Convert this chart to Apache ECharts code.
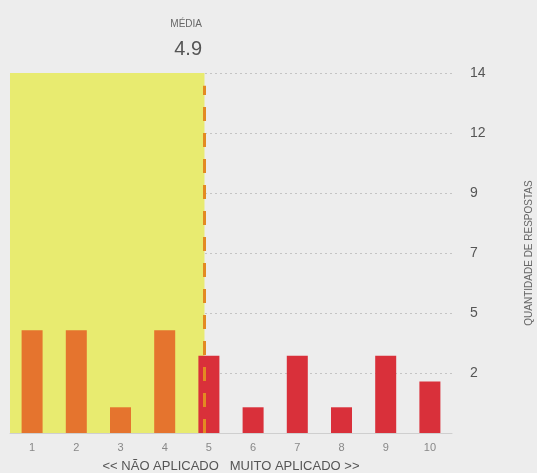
<!DOCTYPE html>
<html>
<head>
<meta charset="utf-8">
<script src="https://cdn.jsdelivr.net/npm/echarts@6/dist/echarts.min.js"></script>
<style>
  html, body { margin: 0; padding: 0; background: #ededed; }
  #chart { width: 537px; height: 473px; }
</style>
</head>
<body>
<div id="chart"></div>
<script>
// escala 1 a 10 e quantidade de respostas
var categories = ['1', '2', '3', '4', '5', '6', '7', '8', '9', '10'];
var respostas = [4, 4, 1, 4, 3, 1, 3, 1, 3, 2];
var media = 4.9;
var yMax = 14;
var yTickLabels = ['2', '5', '7', '9', '12', '14'];

var myChart = echarts.init(document.getElementById('chart'));

var font = '"Liberation Sans", Arial, sans-serif';
var step = yMax / yTickLabels.length;

var option = {
    backgroundColor: '#ededed',
    animation: false,
    textStyle: { fontFamily: font },
    grid: { left: 10, right: 85, top: 73, bottom: 40, outerBoundsMode: 'none' },
    graphic: [
        {
            type: 'text', x: 202, y: 19,
            style: { text: 'MÉDIA', align: 'right', fill: '#666', font: '10px ' + font }
        },
        {
            type: 'text', x: 202, y: 39,
            style: { text: media.toFixed(1), align: 'right', fill: '#555', font: '20px ' + font }
        }
    ],
    xAxis: [
        {
            type: 'category',
            data: categories,
            name: '<< NÃO APLICADO   MUITO APLICADO >>',
            nameLocation: 'middle',
            nameGap: 27,
            nameTextStyle: { color: '#555', fontSize: 13 },
            axisLine: { lineStyle: { color: '#cfcfcf', width: 1 } },
            axisTick: { show: false },
            axisLabel: { color: '#888', fontSize: 11, margin: 9 }
        },
        {
            // eixo auxiliar para média e área
            type: 'value',
            min: 0.5,
            max: 10.5,
            show: false
        }
    ],
    yAxis: {
        type: 'value',
        position: 'right',
        min: 0,
        max: yMax,
        interval: step,
        name: 'QUANTIDADE DE RESPOSTAS',
        nameLocation: 'middle',
        nameRotate: 90,
        nameGap: 72,
        nameTextStyle: { color: '#666', fontSize: 10 },
        axisLine: { show: false },
        axisTick: { show: false },
        axisLabel: {
            color: '#555',
            fontSize: 14,
            margin: 18,
            padding: [0, 0, 8, 0],
            showMinLabel: false,
            formatter: function (v) {
                var i = Math.round(v / step) - 1;
                return i >= 0 ? yTickLabels[i] : '';
            }
        },
        splitLine: { lineStyle: { color: '#c4c4c4', type: [2, 3], width: 1 } }
    },
    series: [
        {
            type: 'scatter',
            xAxisIndex: 1,
            symbolSize: 0,
            data: [[media, 0]],
            z: 1,
            silent: true,
            markArea: {
                silent: true,
                itemStyle: { color: '#e8eb70' },
                data: [[{ xAxis: 0.5, yAxis: 0 }, { xAxis: media, yAxis: yMax }]]
            }
        },
        {
            type: 'bar',
            data: respostas.map(function (v, i) {
                return {
                    value: v,
                    itemStyle: { color: (i + 1) < media ? '#e5742e' : '#d9303a' }
                };
            }),
            barWidth: 21,
            z: 3
        },
        {
            type: 'scatter',
            xAxisIndex: 1,
            symbolSize: 0,
            data: [[media, 0]],
            z: 5,
            silent: true,
            markLine: {
                silent: true,
                symbol: ['none', 'none'],
                label: { show: false },
                lineStyle: { color: '#e38a22', width: 3, type: [14, 12] },
                data: [[{ coord: [media, 0] }, { coord: [media, 13.5] }]]
            }
        }
    ]
};

myChart.setOption(option);
</script>
</body>
</html>
